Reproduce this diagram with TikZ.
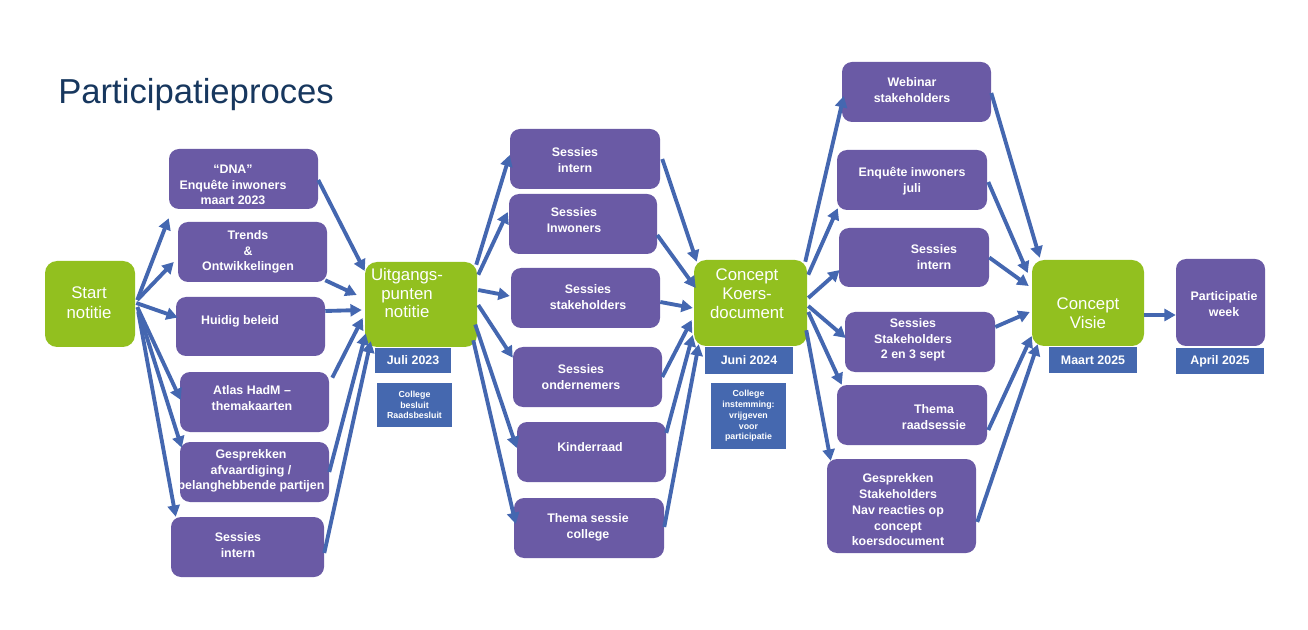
\documentclass[tikz,border=0pt]{standalone}
\usepackage{fontspec}
\setmainfont{Liberation Sans}
\usetikzlibrary{arrows.meta}
\definecolor{purp}{RGB}{106,90,165}
\definecolor{grn}{RGB}{146,192,31}
\definecolor{lblu}{RGB}{69,104,175}
\definecolor{arrblu}{RGB}{68,103,176}
\definecolor{titc}{RGB}{23,55,94}
\newcommand\bx[7]{\node[#1,minimum width={(#5-#3)*0.75pt},minimum height={(#6-#4)*0.75pt}] (#2) at ({(#3+#5)/2},{(#4+#6)/2}) {#7};}
\begin{document}
\begin{tikzpicture}[x=0.75pt,y=-0.75pt,
  pbox/.style={fill=purp,rounded corners=7.5pt,inner sep=0pt,draw=none},
  gbox/.style={fill=grn,rounded corners=9pt,inner sep=0pt,draw=none},
  ptxt/.style={text=white,align=center,inner sep=0pt,font=\bfseries\fontsize{9.3}{11.8}\selectfont},
  gtxt/.style={text=white,align=center,inner sep=0pt,font=\fontsize{12.6}{14.2}\selectfont},
  dlab/.style={fill=lblu,text=white,inner sep=0pt,align=center,font=\bfseries\fontsize{9.3}{11}\selectfont},
  slab/.style={fill=lblu,text=white,inner sep=0pt,align=center,font=\bfseries\fontsize{6.6}{8.1}\selectfont},
  arr/.style={draw=arrblu,line width=2.9pt,-{Triangle[length=8.5pt,width=9pt]}}]
\useasboundingbox (0,0) rectangle (1308,630);
\node[anchor=base west,inner sep=0pt,text=titc,font=\fontsize{26}{30}\selectfont] (title) at (58,104) {Participatieproces};

% green boxes
\bx{gbox}{start}{45}{261}{135}{347}{}
\node[gtxt,font=\fontsize{12.6}{15}\selectfont] (start-t) at (89,303) {Start\\notitie};
\bx{gbox}{uitg}{365}{262}{477}{347}{}
\node[gtxt] (uitg-t) at (407,293) {Uitgangs-\\punten\\notitie};
\bx{gbox}{koers}{694}{260}{807}{346}{}
\node[gtxt] (koers-t) at (747,294) {Concept\\Koers-\\document};
\bx{gbox}{visie}{1032}{260}{1144}{346}{}
\node[gtxt] (visie-t) at (1088,313) {Concept\\Visie};

% column 1
\bx{pbox}{dna}{169}{149}{318}{209}{}
\node[ptxt] (dna-t) at (233,185) {“DNA”\\Enquête inwoners\\maart 2023};
\bx{pbox}{trends}{178}{222}{327}{282}{}
\node[ptxt] (trends-t) at (248,252) {Trends\\\&\\Ontwikkelingen};
\bx{pbox}{huidig}{176}{297}{325}{356}{}
\node[ptxt] (huidig-t) at (240,321) {Huidig beleid};
\bx{pbox}{atlas}{180}{372}{329}{432}{}
\node[ptxt] (atlas-t) at (252,398) {Atlas HadM –\\themakaarten};
\bx{pbox}{gesp}{180}{442}{329}{502}{}
\node[ptxt] (gesp-t) at (251,471) {Gesprekken\\afvaardiging /\\belanghebbende partijen};
\bx{pbox}{sinta}{171}{517}{324}{577}{}
\node[ptxt] (sinta-t) at (238,545) {Sessies\\intern};

% column 2
\bx{pbox}{sintb}{510}{129}{660}{189}{}
\node[ptxt] (sintb-t) at (575,160) {Sessies\\intern};
\bx{pbox}{inw}{509}{194}{657}{254}{}
\node[ptxt] (inw-t) at (574,220) {Sessies\\Inwoners};
\bx{pbox}{stk}{511}{268}{660}{328}{}
\node[ptxt] (stk-t) at (588,297) {Sessies\\stakeholders};
\bx{pbox}{ond}{513}{347}{662}{407}{}
\node[ptxt] (ond-t) at (581,377) {Sessies\\ondernemers};
\bx{pbox}{kind}{517}{422}{666}{482}{}
\node[ptxt] (kind-t) at (590,447) {Kinderraad};
\bx{pbox}{thmb}{514}{498}{664}{558}{}
\node[ptxt] (thmb-t) at (588,527) {Thema sessie\\college};

% column 3
\bx{pbox}{web}{842}{62}{991}{122}{}
\node[ptxt] (web-t) at (912,90) {Webinar\\stakeholders};
\bx{pbox}{enq}{837}{150}{987}{210}{}
\node[ptxt] (enq-t) at (912,181) {Enquête inwoners\\juli};
\bx{pbox}{sintc}{839}{228}{989}{287}{}
\node[ptxt] (sintc-t) at (934,257) {Sessies\\intern};
\bx{pbox}{stkc}{845}{312}{995}{372}{}
\node[ptxt] (stkc-t) at (913,340) {Sessies\\Stakeholders\\2 en 3 sept};
\bx{pbox}{thr}{837}{385}{987}{445}{}
\node[ptxt] (thr-t) at (934,417) {Thema\\raadsessie};
\bx{pbox}{gspc}{827}{459}{976}{553}{}
\node[ptxt] (gspc-t) at (898,510) {Gesprekken\\Stakeholders\\Nav reacties op\\concept\\koersdocument};

\bx{pbox}{part}{1176}{259}{1265}{346}{}
\node[ptxt] (part-t) at (1224,304) {Participatie\\week};

% date labels
\bx{dlab}{juli}{375}{348}{451}{373}{Juli 2023}
\bx{slab}{besl}{377}{383}{452}{427}{College\\besluit\\Raadsbesluit}
\bx{dlab}{juni}{705}{347}{793}{374}{Juni 2024}
\bx{slab}{inst}{711}{383}{786}{449}{College\\instemming:\\vrijgeven\\voor\\participatie}
\bx{dlab}{maart}{1049}{347}{1137}{373}{Maart 2025}
\bx{dlab}{april}{1176}{348}{1264}{374}{April 2025}

% arrows: start -> column 1
\draw[arr] ([shift={(2,-4)}]start.east) -- ([shift={(0,9)}]dna.south west);
\draw[arr] ([shift={(2,-4)}]start.east) -- ([shift={(-4,10)}]trends.west);
\draw[arr] ([shift={(1,-1)}]start.east) -- ([shift={(2,-9)}]huidig.west);
\draw[arr] ([shift={(2,3)}]start.east) -- ([shift={(1,-2)}]atlas.west);
\draw[arr] ([shift={(3,6)}]start.east) -- ([shift={(2,6)}]gesp.north west);
\draw[arr] ([shift={(3,8)}]start.east) -- ([shift={(5,0)}]sinta.north west);
% column 1 -> uitgangspunten
\draw[arr] ([shift={(0,1)}]dna.east) -- ([shift={(0,-33.5)}]uitg.west);
\draw[arr] ([shift={(-2,-2)}]trends.south east) -- ([shift={(-8,-9.5)}]uitg.west);
\draw[arr] ([shift={(0,-15.5)}]huidig.east) -- ([shift={(-3,5.5)}]uitg.west);
\draw[arr] ([shift={(3,6)}]atlas.north east) -- ([shift={(-2,13.5)}]uitg.west);
\draw[arr] (gesp.east) -- ([shift={(1,29)}]uitg.west);
\draw[arr] ([shift={(0,6)}]sinta.east) -- ([shift={(6,-6)}]uitg.south west);
% uitgangspunten -> column 2
\draw[arr] ([shift={(-1,3)}]uitg.north east) -- ([shift={(0,-4)}]sintb.west);
\draw[arr] ([shift={(1,13)}]uitg.north east) -- ([shift={(-1,-12)}]inw.west);
\draw[arr] ([shift={(1,-14.5)}]uitg.east) -- ([shift={(-1,-2)}]stk.west);
\draw[arr] ([shift={(1,0.5)}]uitg.east) -- ([shift={(0,11)}]ond.north west);
\draw[arr] ([shift={(-2,20)}]uitg.east) -- ([shift={(0,-4)}]kind.west);
\draw[arr] ([shift={(-4,-7)}]uitg.south east) -- ([shift={(2,-4)}]thmb.west);
% column 2 -> koersdocument
\draw[arr] ([shift={(2,0)}]sintb.east) -- ([shift={(3,2)}]koers.north west);
\draw[arr] ([shift={(0,11)}]inw.east) -- ([shift={(2,-15)}]koers.west);
\draw[arr] ([shift={(0,4)}]stk.east) -- ([shift={(-1,5)}]koers.west);
\draw[arr] (ond.east) -- ([shift={(-2,17)}]koers.west);
\draw[arr] ([shift={(0,-19)}]kind.east) -- ([shift={(-1,32)}]koers.west);
\draw[arr] ([shift={(0,-1)}]thmb.east) -- ([shift={(5,-2)}]koers.south west);
% koersdocument -> column 3
\draw[arr] ([shift={(-2,2)}]koers.north east) -- ([shift={(2,4)}]web.west);
\draw[arr] ([shift={(1,15)}]koers.north east) -- ([shift={(1,-2)}]enq.south west);
\draw[arr] ([shift={(1,-5)}]koers.east) -- ([shift={(1,12.5)}]sintc.west);
\draw[arr] ([shift={(1,3)}]koers.east) -- ([shift={(1,-4)}]stkc.west);
\draw[arr] ([shift={(1,9)}]koers.east) -- ([shift={(5,0)}]thr.north west);
\draw[arr] ([shift={(-1,-16)}]koers.south east) -- ([shift={(4,2)}]gspc.north west);
% column 3 -> visie
\draw[arr] ([shift={(0,1)}]web.east) -- ([shift={(8,-2)}]visie.north west);
\draw[arr] ([shift={(1,2)}]enq.east) -- ([shift={(-4,-30)}]visie.west);
\draw[arr] (sintc.east) -- ([shift={(-3,-17)}]visie.west);
\draw[arr] ([shift={(0,-15)}]stkc.east) -- ([shift={(-2,9)}]visie.west);
\draw[arr] ([shift={(1,15)}]thr.east) -- ([shift={(0,33)}]visie.west);
\draw[arr] ([shift={(1,16)}]gspc.east) -- ([shift={(6,-2)}]visie.south west);
% visie -> participatieweek
\draw[arr] ([shift={(0,12)}]visie.east) -- ([shift={(0,12.5)}]part.west);
\end{tikzpicture}
\end{document}
